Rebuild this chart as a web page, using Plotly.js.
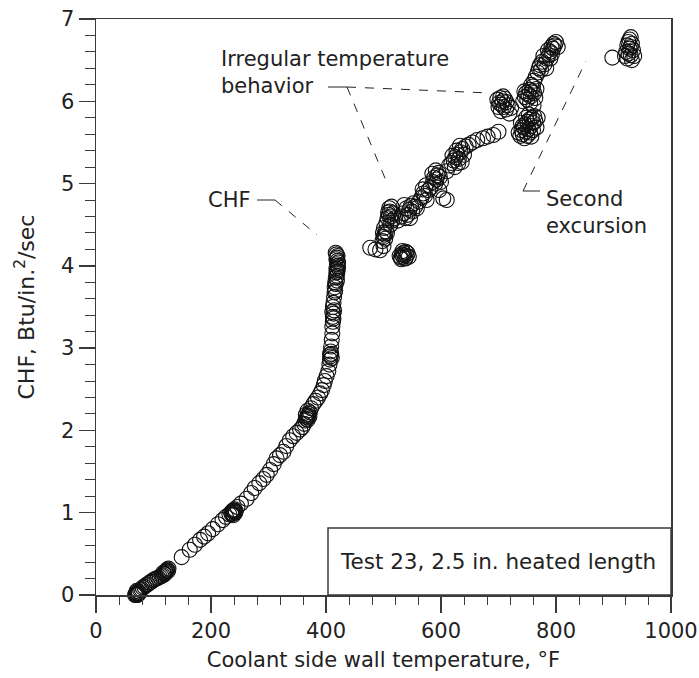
<!DOCTYPE html>
<html>
<head>
<meta charset="utf-8">
<script src="https://cdn.plot.ly/plotly-3.0.1.min.js"></script>
<style>html,body{margin:0;padding:0;background:#fff;}</style>
</head>
<body>
<div id="chart" style="width:699px;height:678px;"></div>
<script>
// Lower branch (nucleate boiling up to CHF)
const lowT = [68,69,70,71,72,70,73,74,71,75,
  77,79,81,84,87,90,93,96,99,102,
  105,108,111,114,116,118,120,121,122,123,
  124,125,126,119,117,
  149,163,172,181,188,195,203,212,220,226,
  232,235,237,238,239,240,241,242,243,236,
  239,241,246,252,262,270,276,284,291,297,
  303,309,314,320,326,331,337,343,349,355,
  359,362,364,366,367,368,369,370,371,372,
  365,368,374,378,382,386,390,393,396,398,
  401,404,406,407,408,409,410,408,407,409,
  410,411,411,412,412,413,413,414,412,411,
  413,414,415,415,416,416,417,417,418,418,
  419,419,420,420,421,419,418,420,421,419,
  417,418,420,419];
const lowQ = [0.00,0.01,0.00,0.02,0.00,0.03,0.01,0.04,0.05,0.02,
  0.06,0.07,0.09,0.10,0.12,0.13,0.15,0.16,0.18,0.19,
  0.20,0.21,0.22,0.23,0.24,0.26,0.27,0.28,0.29,0.30,
  0.31,0.29,0.32,0.25,0.27,
  0.46,0.55,0.61,0.67,0.71,0.75,0.80,0.86,0.91,0.95,
  0.98,1.00,1.02,0.99,1.03,1.01,1.04,1.00,1.02,0.98,
  0.97,1.02,1.07,1.11,1.17,1.24,1.30,1.36,1.41,1.46,
  1.52,1.59,1.66,1.70,1.74,1.81,1.88,1.93,1.97,2.01,
  2.04,2.08,2.12,2.14,2.16,2.13,2.18,2.20,2.17,2.22,
  2.19,2.24,2.27,2.32,2.36,2.40,2.45,2.49,2.55,2.60,
  2.66,2.72,2.80,2.86,2.90,2.93,2.88,2.96,2.92,3.02,
  3.10,3.18,3.26,3.32,3.38,3.42,3.36,3.46,3.50,3.44,
  3.55,3.62,3.68,3.74,3.70,3.80,3.86,3.78,3.92,3.97,
  4.02,3.95,4.00,4.06,3.98,4.10,4.14,4.12,4.04,3.88,
  4.16,4.08,3.93,3.82];

// Upper branch (post-CHF, irregular temperature behavior)
const upT = [477,486,494,500,
  528,530,532,534,536,538,540,542,535,531,539,544,533,
  498,500,502,504,501,506,503,499,
  505,507,509,511,513,515,510,517,520,512,508,514,
  525,530,535,540,542,545,548,550,552,546,538,555,536,
  558,562,566,569,572,575,568,578,574,
  582,586,588,590,592,594,596,598,600,585,591,
  604,610,597,
  610,614,618,622,625,628,631,634,637,630,624,640,636,627,643,620,633,
  648,655,663,673,681,691,700,
  698,701,703,705,707,709,711,713,716,704,708,719,714,722,700,
  735,738,740,742,744,746,748,750,752,754,756,758,760,762,764,766,745,750,755,760,742,753,768,739,757,748,
  743,746,748,750,752,754,756,758,760,762,764,757,745,766,755,761,
  762,765,768,770,772,776,780,784,787,790,793,795,798,800,796,786,774,778,792,803,790,783];
const upQ = [4.22,4.20,4.19,4.24,
  4.12,4.10,4.14,4.11,4.13,4.09,4.12,4.15,4.16,4.08,4.17,4.11,4.18,
  4.30,4.35,4.38,4.42,4.46,4.40,4.33,4.40,
  4.52,4.58,4.62,4.66,4.60,4.55,4.70,4.64,4.58,4.50,4.65,4.72,
  4.55,4.60,4.64,4.70,4.62,4.68,4.73,4.66,4.76,4.58,4.58,4.72,4.74,
  4.70,4.78,4.83,4.88,4.85,4.80,4.93,4.92,4.98,
  4.95,5.02,5.07,5.00,5.05,5.10,5.13,5.08,5.02,5.12,5.16,
  4.82,4.80,4.92,
  5.15,5.22,5.25,5.28,5.32,5.35,5.30,5.38,5.42,5.25,5.20,5.35,5.26,5.40,5.45,5.34,5.46,
  5.47,5.50,5.53,5.55,5.57,5.59,5.63,
  6.02,5.98,6.04,5.96,6.00,5.93,6.03,5.90,5.95,5.88,6.06,5.85,5.99,5.92,5.93,
  5.62,5.58,5.65,5.60,5.68,5.72,5.63,5.75,5.66,5.78,5.70,5.80,5.74,5.82,5.76,5.68,5.55,5.58,5.62,5.65,5.70,5.84,5.80,5.74,5.57,5.80,
  6.00,6.05,6.10,6.02,6.08,6.14,6.06,6.12,6.18,6.10,6.04,6.20,6.12,6.15,5.98,5.95,
  6.25,6.30,6.35,6.40,6.44,6.48,6.45,6.52,6.56,6.60,6.58,6.64,6.68,6.72,6.70,6.62,6.38,6.55,6.66,6.66,6.52,6.40];

// Second excursion
const excT = [898,920,922,924,926,928,930,932,934,928,930,926,932,936,924,930];
const excQ = [6.53,6.55,6.60,6.52,6.58,6.64,6.56,6.70,6.62,6.75,6.78,6.72,6.50,6.55,6.68,6.66];

const xTitle = 'Coolant side wall temperature, °F';
const yTitle = 'CHF, Btu/in.<sup>2</sup>/sec';
const legendText = 'Test 23, 2.5 in. heated length';

const FONT = 'DejaVu Sans';
const INK = '#222';
const AX = '#3a3a3a';

const marker = {symbol:'circle-open', size:15, color:'#111', line:{width:1.1, color:'#111'}};
const traces = [
  {x:lowT, y:lowQ, type:'scatter', mode:'markers', marker:marker, cliponaxis:false, hoverinfo:'x+y'},
  {x:upT, y:upQ, type:'scatter', mode:'markers', marker:marker, cliponaxis:false, hoverinfo:'x+y'},
  {x:excT, y:excQ, type:'scatter', mode:'markers', marker:marker, cliponaxis:false, hoverinfo:'x+y'}
];

// pixel helpers for leader lines (plot area: x 96..671, y 19..595)
const px2x = p => (p - 96) / 575 * 1000;
const py2y = p => (595 - p) / 576 * 7;
function seg(x0,y0,x1,y1,dash){
  return {type:'line', xref:'x', yref:'y', x0:px2x(x0), y0:py2y(y0), x1:px2x(x1), y1:py2y(y1),
          line:{color:'#222', width:1, dash:dash?'dash':'solid'}};
}

const layout = {
  width:699, height:678,
  margin:{l:96, r:28, t:19, b:83},
  paper_bgcolor:'#fff', plot_bgcolor:'#fff',
  showlegend:false,
  font:{family:FONT, size:21, color:INK},
  xaxis:{
    range:[0,1000], dtick:200, tick0:0,
    ticks:'outside', ticklen:16, tickwidth:1.5, tickcolor:AX,
    showline:true, linecolor:AX, linewidth:1.5, mirror:true,
    showgrid:false, zeroline:false,
    minor:{dtick:40, ticks:'outside', ticklen:8, tickwidth:1, tickcolor:AX, showgrid:false},
    tickfont:{family:FONT, size:21, color:INK},
    title:{text:xTitle, font:{family:FONT, size:21, color:INK}, standoff:10}
  },
  yaxis:{
    range:[0,7], dtick:1, tick0:0,
    ticks:'outside', ticklen:16, tickwidth:1.5, tickcolor:AX,
    showline:true, linecolor:AX, linewidth:1.5, mirror:true,
    showgrid:false, zeroline:false,
    minor:{dtick:0.2, ticks:'outside', ticklen:10, tickwidth:1, tickcolor:AX, showgrid:false},
    tickfont:{family:FONT, size:21, color:INK},
    title:{text:yTitle, font:{family:FONT, size:22, color:INK}, standoff:20}
  },
  shapes:[
    {type:'rect', xref:'paper', yref:'paper', x0:(328-96)/575, x1:1, y0:0, y1:(595-528)/576,
     line:{color:AX, width:1.5}, fillcolor:'rgba(255,255,255,0)'},
    // CHF leader
    seg(257,200,275,200,false), seg(275,200,317,235,true),
    // Irregular temperature behavior leaders
    seg(328,87,347,87,false), seg(347,87,490,93,true), seg(347,87,387,183,true),
    // Second excursion leader
    seg(523,191,540,191,false), seg(523,191,586,61,true)
  ],
  annotations:[
    {xref:'paper', yref:'paper', x:(498-96)/575, y:(595-561)/576, text:legendText, showarrow:false,
     xanchor:'center', yanchor:'middle', font:{family:FONT, size:21.5, color:INK}},
    {xref:'x', yref:'y', x:px2x(253), y:py2y(200), text:'CHF', showarrow:false,
     xanchor:'right', yanchor:'middle', font:{family:FONT, size:21, color:INK}},
    {xref:'x', yref:'y', x:px2x(219), y:py2y(72), text:'Irregular temperature<br>behavior', showarrow:false,
     xanchor:'left', yanchor:'middle', align:'left', font:{family:FONT, size:21, color:INK}},
    {xref:'x', yref:'y', x:px2x(544), y:py2y(212), text:'Second<br>excursion', showarrow:false,
     xanchor:'left', yanchor:'middle', align:'left', font:{family:FONT, size:21, color:INK}}
  ]
};

Plotly.newPlot('chart', traces, layout, {staticPlot:true, displayModeBar:false});
</script>
</body>
</html>
